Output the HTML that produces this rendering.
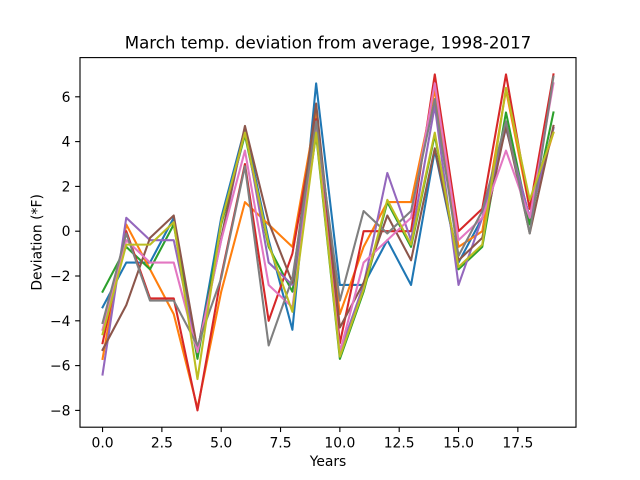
<!DOCTYPE html>
<html>
<head>
<meta charset="utf-8">
<title>March temp. deviation from average, 1998-2017</title>
<style>
html,body{margin:0;padding:0;background:#fff;}
svg{display:block;font-family:"DejaVu Sans",sans-serif;}
</style>
</head>
<body>
<svg id="chart" xmlns="http://www.w3.org/2000/svg" width="640" height="480" viewBox="0 0 640 480">
<rect x="0" y="0" width="640" height="480" fill="#fff"/>
<g id="series-layer"></g>
<g id="tick-layer"></g>
<rect x="80" y="57.6" width="496" height="369.6" fill="none" stroke="#000" stroke-width="1.11"/>
<text x="328" y="48.6" font-size="16.67" text-anchor="middle" fill="#000">March temp. deviation from average, 1998-2017</text>
<text x="328" y="466" font-size="13.89" text-anchor="middle" fill="#000">Years</text>
<text transform="translate(41.5 242.4) rotate(-90)" font-size="13.89" text-anchor="middle" fill="#000">Deviation (*F)</text>
</svg>
<script>
const xTicks = [0, 2.5, 5, 7.5, 10, 12.5, 15, 17.5];
const xTickLabels = ["0.0", "2.5", "5.0", "7.5", "10.0", "12.5", "15.0", "17.5"];
const yTicks = [-8, -6, -4, -2, 0, 2, 4, 6];
const yTickLabels = ["\u22128", "\u22126", "\u22124", "\u22122", "0", "2", "4", "6"];
const years = [0,1,2,3,4,5,6,7,8,9,10,11,12,13,14,15,16,17,18,19];
const blueValues   = [-3.4,-1.4,-1.4,0.6,-5.4,0.6,4.6,-0.4,-4.4,6.6,-2.4,-2.4,-0.4,-2.4,3.6,-1.4,0.6,4.6,0.6,4.6];
const orangeValues = [-5.7,0.3,-1.7,-3.7,-7.9,-2.7,1.3,0.3,-0.7,5.3,-3.7,-0.7,1.3,1.3,6.3,-0.7,0.0,6.3,1.0,4.4];
const greenValues  = [-2.7,-0.7,-1.7,0.3,-5.7,0.3,4.3,-0.7,-2.7,4.3,-5.7,-2.7,1.3,-0.7,4.3,-1.7,-0.7,5.3,0.3,5.3];
const redValues    = [-5.0,0.0,-3.0,-3.0,-8.0,-2.0,3.0,-4.0,-1.0,5.0,-5.0,0.0,0.0,0.0,7.0,0.0,1.0,7.0,1.0,7.0];
const purpleValues = [-6.4,0.6,-0.4,-0.4,-5.4,-0.4,4.6,-1.4,-2.4,4.6,-5.4,-2.4,2.6,-0.4,5.6,-2.4,0.6,4.6,0.6,4.6];
const brownValues  = [-5.3,-3.3,-0.3,0.7,-5.3,-0.3,4.7,0.4,-2.3,5.7,-4.3,-2.3,0.7,-1.3,3.7,-1.3,-0.3,4.7,-0.1,4.7];
const pinkValues   = [-4.4,-0.4,-1.4,-1.4,-5.4,-0.4,3.6,-2.4,-3.4,4.6,-5.4,-1.4,-0.4,0.6,6.6,-0.4,0.6,3.6,0.6,6.6];
const grayValues   = [-4.1,-0.1,-3.1,-3.1,-5.1,-2.1,2.9,-5.1,-2.1,4.9,-3.1,0.9,-0.1,0.9,5.9,-1.1,0.9,4.9,-0.1,6.9];
const oliveValues  = [-4.6,-0.6,-0.6,0.4,-6.6,0.4,4.4,-0.6,-3.6,4.4,-5.6,-2.6,1.4,-0.6,4.4,-1.6,-0.6,6.4,1.4,4.4];
const seriesList = [
  ["blue", "#1f77b4", blueValues],
  ["orange", "#ff7f0e", orangeValues],
  ["green", "#2ca02c", greenValues],
  ["red", "#d62728", redValues],
  ["purple", "#9467bd", purpleValues],
  ["brown", "#8c564b", brownValues],
  ["pink", "#e377c2", pinkValues],
  ["gray", "#7f7f7f", grayValues],
  ["olive", "#bcbd22", oliveValues]
];

const NS = "http://www.w3.org/2000/svg";
const plotLeft = 80, plotRight = 576, plotTop = 57.6, plotBottom = 427.2;
const xMin = -0.95, xMax = 19.95, yMin = -8.75, yMax = 7.75;
function xScale(v) { return plotLeft + (v - xMin) / (xMax - xMin) * (plotRight - plotLeft); }
function yScale(v) { return plotBottom - (v - yMin) / (yMax - yMin) * (plotBottom - plotTop); }

const seriesLayer = document.getElementById("series-layer");
const tickLayer = document.getElementById("tick-layer");

seriesList.forEach(function (s) {
  const line = document.createElementNS(NS, "polyline");
  
  
  line.setAttribute("points", s[2].map(function (v, i) {
    return xScale(years[i]).toFixed(2) + "," + yScale(v).toFixed(2);
  }).join(" "));
  line.setAttribute("fill", "none");
  line.setAttribute("stroke", s[1]);
  line.setAttribute("stroke-width", "2.08");
  line.setAttribute("stroke-linejoin", "round");
  line.setAttribute("stroke-linecap", "square");
  seriesLayer.appendChild(line);
});

xTicks.forEach(function (t, i) {
  const px = xScale(t);
  const mark = document.createElementNS(NS, "line");
  
  
  mark.setAttribute("x1", px);
  mark.setAttribute("x2", px);
  mark.setAttribute("y1", plotBottom);
  mark.setAttribute("y2", plotBottom + 4.86);
  mark.setAttribute("stroke", "#000");
  mark.setAttribute("stroke-width", "1.11");
  tickLayer.appendChild(mark);
  const label = document.createElementNS(NS, "text");
  
  
  label.setAttribute("x", px);
  label.setAttribute("y", 447.5);
  label.setAttribute("font-size", "13.89");
  label.setAttribute("text-anchor", "middle");
  label.setAttribute("fill", "#000");
  label.textContent = xTickLabels[i];
  tickLayer.appendChild(label);
});

yTicks.forEach(function (t, i) {
  const py = yScale(t);
  const mark = document.createElementNS(NS, "line");
  
  
  mark.setAttribute("x1", plotLeft - 4.86);
  mark.setAttribute("x2", plotLeft);
  mark.setAttribute("y1", py);
  mark.setAttribute("y2", py);
  mark.setAttribute("stroke", "#000");
  mark.setAttribute("stroke-width", "1.11");
  tickLayer.appendChild(mark);
  const label = document.createElementNS(NS, "text");
  
  
  label.setAttribute("x", 70.5);
  label.setAttribute("y", py + 5);
  label.setAttribute("font-size", "13.89");
  label.setAttribute("text-anchor", "end");
  label.setAttribute("fill", "#000");
  label.textContent = yTickLabels[i];
  tickLayer.appendChild(label);
});
</script>
</body>
</html>
